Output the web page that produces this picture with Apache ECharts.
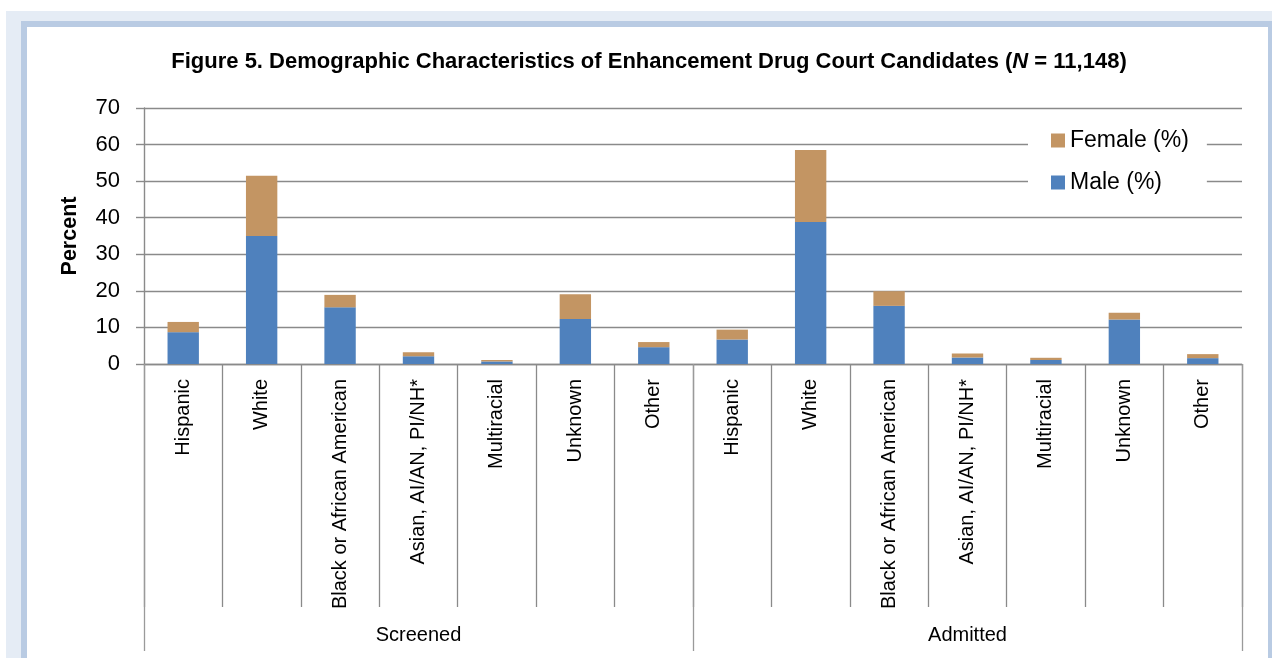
<!DOCTYPE html>
<html>
<head>
<meta charset="utf-8">
<title>Figure 5. Demographic Characteristics of Enhancement Drug Court Candidates</title>
<script src="https://cdn.jsdelivr.net/npm/echarts@6/dist/echarts.min.js"></script>
<style>
  html, body { margin: 0; padding: 0; background: #ffffff; }
  #chart { width: 1272px; height: 658px; }
</style>
</head>
<body>
<div id="chart"></div>
<script>
// Race/ethnicity categories, shown once for each candidate group
const raceCategories = ['Hispanic', 'White', 'Black or African American', 'Asian, AI/AN, PI/NH*', 'Multiracial', 'Unknown', 'Other'];
const groups = ['Screened', 'Admitted'];

// Percent of candidates, by sex
const maleScreened   = [8.7, 35.0, 15.5, 2.1, 0.7, 12.3, 4.6];
const femaleScreened = [2.8, 16.5, 3.4, 1.1, 0.4, 6.8, 1.4];
const maleAdmitted   = [6.7, 38.8, 15.9, 1.8, 1.1, 12.2, 1.6];
const femaleAdmitted = [2.7, 19.7, 4.0, 1.1, 0.6, 1.8, 1.1];

const yTicks = [0, 10, 20, 30, 40, 50, 60, 70];

const categories = raceCategories.concat(raceCategories);
const maleValues = maleScreened.concat(maleAdmitted);
const femaleValues = femaleScreened.concat(femaleAdmitted);

const FONT = "'Liberation Sans', Arial, sans-serif";
const LINE = '#8a8a8a';

const chart = echarts.init(document.getElementById('chart'), null, { renderer: 'canvas' });

chart.setOption({
  backgroundColor: '#ffffff',
  animation: false,
  textStyle: { fontFamily: FONT, color: '#000' },
  graphic: [
    { type: 'rect', z: -30, silent: true, shape: { x: 6, y: 11, width: 1300, height: 700 }, style: { fill: '#e5ecf5' } },
    { type: 'rect', z: -20, silent: true, shape: { x: 21, y: 21, width: 1300, height: 700 }, style: { fill: '#b9cbe3' } },
    { type: 'rect', z: -10, silent: true, shape: { x: 27, y: 27, width: 1241, height: 700 }, style: { fill: '#ffffff' } }
  ],
  title: {
    text: '{b|Figure 5. Demographic Characteristics of Enhancement Drug Court Candidates (}{i|N}{b| = 11,148)}',
    left: 649,
    top: 51,
    padding: 0,
    textAlign: 'center',
    textStyle: {
      rich: {
        b: { fontFamily: FONT, fontWeight: 'bold', fontSize: 22, color: '#000' },
        i: { fontFamily: FONT, fontWeight: 'bold', fontStyle: 'italic', fontSize: 22, color: '#000' }
      }
    }
  },
  legend: {
    data: ['Female (%)', 'Male (%)'],
    orient: 'vertical',
    left: 1028,
    top: 121,
    padding: [6, 18, 8, 23],
    backgroundColor: '#ffffff',
    itemWidth: 14,
    itemHeight: 14,
    itemGap: 15,
    icon: 'rect',
    textStyle: { fontFamily: FONT, fontSize: 23, color: '#000', lineHeight: 27 }
  },
  grid: { left: 144, right: 30, top: 108, bottom: 294, containLabel: false },
  xAxis: [
    {
      type: 'category',
      data: categories,
      position: 'bottom',
      axisLine: { show: true, lineStyle: { color: LINE, width: 1.4 } },
      axisTick: { show: true, interval: 0, length: 243, lineStyle: { color: LINE, width: 1.3 } },
      axisLabel: { interval: 0, rotate: 90, margin: 15, fontFamily: FONT, fontSize: 20, color: '#000' }
    },
    {
      type: 'category',
      data: groups,
      position: 'bottom',
      axisLine: { show: false },
      axisTick: { show: true, interval: 0, length: 287, lineStyle: { color: '#9a9a9a', width: 1.3 } },
      axisLabel: { interval: 0, margin: 261, fontFamily: FONT, fontSize: 20, color: '#000' }
    }
  ],
  yAxis: {
    type: 'value',
    min: yTicks[0],
    max: yTicks[yTicks.length - 1],
    interval: 10,
    name: 'Percent',
    nameLocation: 'middle',
    nameGap: 63,
    nameTextStyle: { fontFamily: FONT, fontWeight: 'bold', fontSize: 21.5, color: '#000' },
    axisLine: { show: true, lineStyle: { color: LINE, width: 1.4 } },
    axisTick: { show: true, length: 8, lineStyle: { color: LINE, width: 1.4 } },
    splitLine: { show: true, lineStyle: { color: LINE, width: 1.4 } },
    axisLabel: { margin: 24, fontFamily: FONT, fontSize: 22, color: '#000' }
  },
  series: [
    {
      name: 'Male (%)',
      type: 'bar',
      stack: 'sex',
      barWidth: '40%',
      data: maleValues,
      itemStyle: { color: '#4f81bd' }
    },
    {
      name: 'Female (%)',
      type: 'bar',
      stack: 'sex',
      barWidth: '40%',
      data: femaleValues,
      itemStyle: { color: '#c39563' }
    }
  ]
});
</script>
</body>
</html>
